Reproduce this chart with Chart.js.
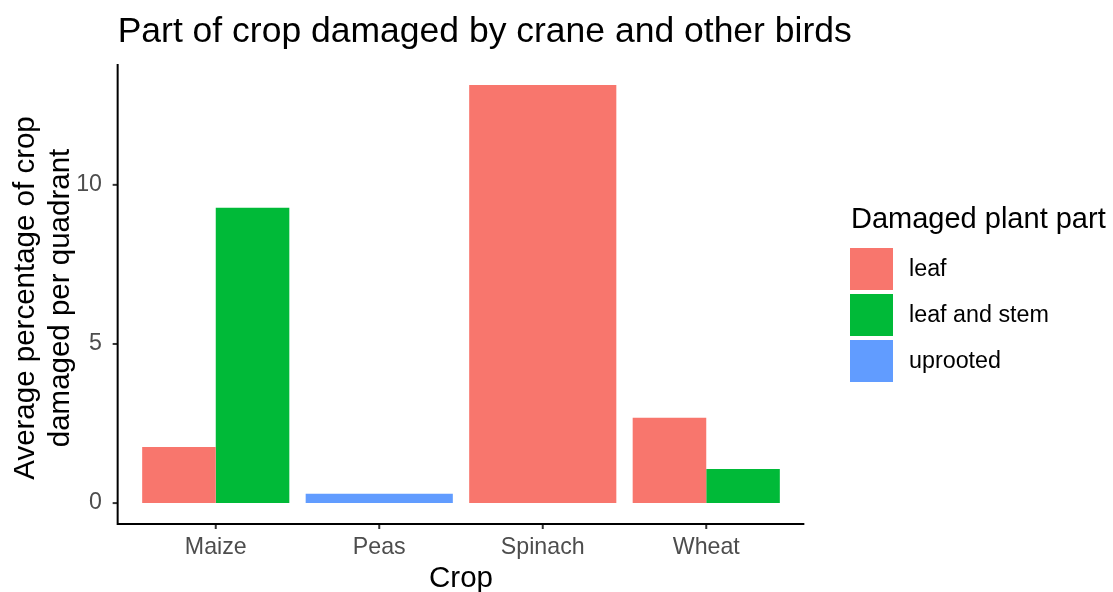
<!DOCTYPE html>
<html>
<head>
<meta charset="utf-8">
<script src="https://cdn.jsdelivr.net/npm/chart.js@4.4.0/dist/chart.umd.min.js"></script>
<style>
    html, body { margin: 0; padding: 0; background: #fff; }
    #wrap { width: 1113px; height: 592px; }
</style>
</head>
<body>
<div id="wrap"><canvas id="grafic-crop"></canvas></div>
<script>
// data
const crops = ['Maize', 'Peas', 'Spinach', 'Wheat'];
const parts = ['leaf', 'leaf and stem', 'uprooted'];
const leafValues = [1.76, null, 13.14, 2.68];
const leafStemValues = [9.28, null, null, 1.07];
const uprootedValues = [null, 0.29, null, null];
const yTicks = [0, 5, 10];

const partColors = ['#F8766D', '#00BA38', '#619CFF'];
const FONT = '"Liberation Sans", Arial, sans-serif';

/* ggplot style axes, titles and legend */
const ggDecor = {
    id: 'ggDecor',
    afterDraw(chart) {
        const ctx = chart.ctx;
        const area = chart.chartArea;
        const x = chart.scales.x;
        const y = chart.scales.y;
        const slot = (area.right - area.left) / crops.length;
        const axLeft = area.left - slot * 0.1;
        const axRight = area.right + slot * 0.1;
        ctx.save();

        // tick marks
        ctx.strokeStyle = '#333333';
        ctx.lineWidth = 2;
        yTicks.forEach(v => {
            const py = y.getPixelForValue(v);
            ctx.beginPath();
            ctx.moveTo(axLeft - 5, py);
            ctx.lineTo(axLeft, py);
            ctx.stroke();
        });
        crops.forEach((c, i) => {
            const px = x.getPixelForValue(i);
            ctx.beginPath();
            ctx.moveTo(px, area.bottom);
            ctx.lineTo(px, area.bottom + 5);
            ctx.stroke();
        });

        // axis lines
        ctx.strokeStyle = '#000';
        ctx.lineWidth = 2;
        ctx.beginPath();
        ctx.moveTo(axLeft, area.top);
        ctx.lineTo(axLeft, area.bottom);
        ctx.lineTo(axRight, area.bottom);
        ctx.stroke();

        // title
        ctx.fillStyle = '#000';
        ctx.textAlign = 'left';
        ctx.textBaseline = 'alphabetic';
        ctx.font = '35.5px ' + FONT;
        ctx.fillText('Part of crop damaged by crane and other birds', axLeft, 42);

        // x title
        ctx.textAlign = 'center';
        ctx.font = '29.5px ' + FONT;
        ctx.fillText('Crop', (axLeft + axRight) / 2, 587);

        // y title, two lines
        ctx.save();
        ctx.translate(34, 298);
        ctx.rotate(-Math.PI / 2);
        ctx.fillText('Average percentage of crop', 0, 0);
        ctx.fillText('damaged per quadrant', 0, 35);
        ctx.restore();

        // legend
        ctx.textAlign = 'left';
        ctx.font = '29px ' + FONT;
        ctx.fillText('Damaged plant part', 851, 228);
        ctx.font = '23.3px ' + FONT;
        ctx.textBaseline = 'middle';
        parts.forEach((p, i) => {
            const top = 248 + i * 46;
            ctx.fillStyle = partColors[i];
            ctx.fillRect(850, top, 43, 42);
            ctx.fillStyle = '#000';
            ctx.fillText(p, 909, top + 22);
        });

        ctx.restore();
    }
};

function createCropChart() {
    const ctx = document.getElementById('grafic-crop').getContext('2d');
    const seriesValues = [leafValues, leafStemValues, uprootedValues];

    const data = {
        labels: crops,
        datasets: parts.map((p, i) => ({
            label: p,
            data: seriesValues[i],
            backgroundColor: partColors[i],
            borderWidth: 0,
            categoryPercentage: 0.9,
            barPercentage: 1,
            skipNull: true
        }))
    };

    const options = {
        responsive: true,
        maintainAspectRatio: false,
        animation: false,
        layout: { padding: { top: 64, right: 325, left: 0, bottom: 0 } },
        plugins: {
            legend: { display: false },
            title: { display: false },
            tooltip: { enabled: false }
        },
        scales: {
            x: {
                grid: { display: false },
                border: { display: false },
                ticks: {
                    color: '#4D4D4D',
                    font: { family: FONT, size: 23.2 },
                    padding: 2,
                    maxRotation: 0
                },
                afterFit: function (scale) { scale.height = 68; }
            },
            y: {
                min: -0.657,
                max: 13.797,
                grid: { display: false },
                border: { display: false },
                ticks: {
                    color: '#4D4D4D',
                    font: { family: FONT, size: 23.2 },
                    padding: 24
                },
                afterBuildTicks: function (scale) {
                    scale.ticks = yTicks.map(v => ({ value: v }));
                },
                afterFit: function (scale) { scale.width = 134; }
            }
        }
    };

    new Chart(ctx, {
        type: 'bar',
        data: data,
        options: options,
        plugins: [ggDecor]
    });
}

createCropChart();
</script>
</body>
</html>
